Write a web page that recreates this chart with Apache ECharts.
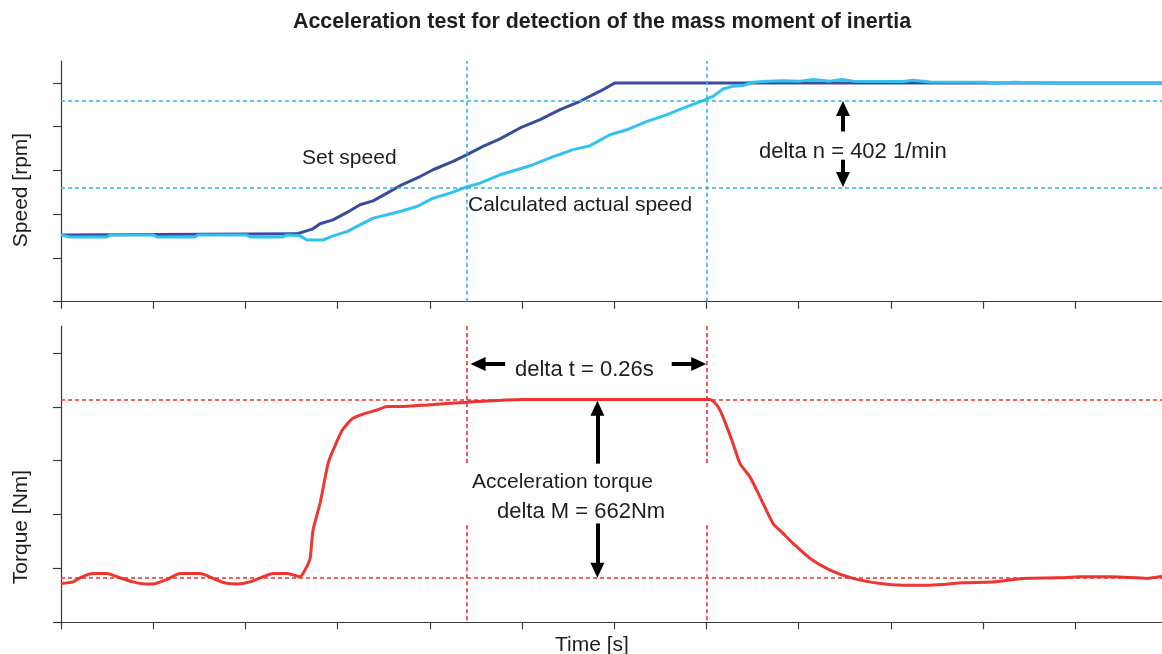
<!DOCTYPE html>
<html><head><meta charset="utf-8">
<script src="https://cdn.jsdelivr.net/npm/echarts@6/dist/echarts.min.js"></script>
<style>html,body{margin:0;padding:0;background:#fff}#c{width:1162px;height:654px}</style>
</head><body><div id="c"></div>
<script>
// ---- data (time in s, speed in rpm, torque in Nm) ----
const xTicks = [0, 0.1, 0.2, 0.3, 0.4, 0.5, 0.6, 0.7, 0.8, 0.9, 1.0, 1.1];
const yTicks = [0, 200, 400, 600, 800, 1000];

const setSpeedT = [0, 0.2556, 0.2733, 0.2809, 0.295, 0.3102, 0.3243, 0.3384, 0.3536, 0.3677, 0.3894, 0.4035, 0.4252, 0.4403, 0.4577, 0.4761, 0.4978, 0.5195, 0.5412, 0.5629, 0.5846, 0.6009, 1.194];
const setSpeedV = [305, 310, 333, 356, 374, 408, 443, 461, 496, 530, 572, 603, 641, 672, 710, 744, 794, 832, 878, 916, 962, 1000, 1000];

const actSpeedT = [0, 0.0098, 0.0499, 0.0531, 0.0998, 0.1041, 0.1453, 0.1486, 0.2017, 0.205, 0.2408, 0.2451, 0.2592, 0.2668, 0.2842, 0.295, 0.3102, 0.3243, 0.3384, 0.3536, 0.3677, 0.3861, 0.4035, 0.4219, 0.4382, 0.4544, 0.4761, 0.4946, 0.5119, 0.5304, 0.5553, 0.5738, 0.5954, 0.6139, 0.6356, 0.6573, 0.6746, 0.6963, 0.7072, 0.718, 0.7289, 0.7397, 0.7505, 0.7657, 0.7831, 0.8015, 0.8156, 0.834, 0.8471, 0.859, 0.9132, 0.9241, 0.9425, 1.0043, 1.0108, 1.0325, 1.0694, 1.194];
const actSpeedV = [305, 296, 296, 305, 305, 296, 296, 305, 305, 296, 296, 305, 301, 282, 282, 301, 320, 351, 382, 397, 412, 435, 473, 496, 522, 542, 580, 603, 626, 657, 695, 713, 763, 786, 824, 855, 885, 919, 939, 972, 985, 988, 1003, 1007, 1010, 1008, 1015, 1008, 1015, 1008, 1006, 1012, 1004, 1003, 997, 1003, 1000, 1000];

const torqueT = [0, 0.013, 0.0228, 0.0347, 0.0499, 0.0607, 0.0781, 0.0933, 0.0998, 0.115, 0.1291, 0.1508, 0.1649, 0.1757, 0.1909, 0.205, 0.2191, 0.2299, 0.2451, 0.2516, 0.2592, 0.2646, 0.2701, 0.2733, 0.2809, 0.2896, 0.295, 0.3048, 0.3156, 0.3275, 0.3427, 0.3536, 0.3677, 0.397, 0.4403, 0.5011, 0.7039, 0.7115, 0.718, 0.7289, 0.7364, 0.7473, 0.7581, 0.7722, 0.7831, 0.7939, 0.8124, 0.834, 0.859, 0.8883, 0.9132, 0.9425, 0.9783, 1.0108, 1.0434, 1.0803, 1.1052, 1.141, 1.1779, 1.194];
const torqueV = [144, 150, 169, 181, 181, 169, 150, 142, 142, 159, 181, 181, 163, 148, 142, 150, 169, 181, 181, 176, 169, 194, 237, 342, 441, 589, 638, 712, 755, 773, 788, 801, 801, 807, 817, 827, 827, 805, 762, 663, 589, 539, 465, 367, 330, 293, 237, 194, 163, 144, 138, 138, 147, 150, 163, 165, 169, 169, 163, 171];

// annotation values
const deltaTimes = [0.44, 0.70];      // delta t = 0.26 s
const speedLevels = [522, 920];       // delta n = 402 1/min (approx)
const torqueLevels = [165, 827];      // delta M = 662 Nm
const torqueGap = [360, 590];         // vertical guide gap behind labels
// arrows: [tail, tip]
const arrowNx = 0.848, arrowN = [[778, 883], [649, 559]];
const arrowTy = 959, arrowT = [[0.4816, 0.4523], [0.6623, 0.6916]];
const arrowMx = 0.5817, arrowM = [[589, 795], [367, 193]];

const zip = (a, b) => a.map((v, i) => [v, b[i]]);

const FONT = "'Liberation Sans', Arial, sans-serif";
const TXT = '#1e1e1e';
const axisCol = '#3a3a3a';
const blueDash = '#2db4e6';
const redDash = '#e8302c';

function xAx(grid) {
  return {
    type: 'value', gridIndex: grid, min: 0, max: 1.194,
    axisLine: { show: true, lineStyle: { color: axisCol, width: 1.2 } },
    axisTick: { show: true, inside: false, length: 7, customValues: xTicks, lineStyle: { color: axisCol, width: 1.2 } },
    axisLabel: { show: false }, splitLine: { show: false }
  };
}
function yAx(grid) {
  return {
    type: 'value', gridIndex: grid, min: 0, max: 1100,
    axisLine: { show: true, lineStyle: { color: axisCol, width: 1.2 } },
    axisTick: { show: true, inside: false, length: 8, customValues: yTicks, lineStyle: { color: axisCol, width: 1.2 } },
    axisLabel: { show: false }, splitLine: { show: false }
  };
}
function dashLines(color, data) {
  return { silent: true, symbol: ['none', 'none'], label: { show: false }, animation: false,
    lineStyle: { color: color, type: [4, 3], width: 1.6 }, emphasis: { disabled: true }, data: data };
}
function arrows(data) {
  return { silent: true, symbol: ['none', 'triangle'], symbolSize: [14, 15], label: { show: false }, animation: false,
    lineStyle: { color: '#000', type: 'solid', width: 4 }, itemStyle: { color: '#000' }, emphasis: { disabled: true }, data: data };
}
const seg = (x1, y1, x2, y2) => [{ coord: [x1, y1] }, { coord: [x2, y2] }];

const chart = echarts.init(document.getElementById('c'), null, { renderer: 'canvas' });
const txt = (text, x, y, opt) => Object.assign({ type: 'text', x: x, y: y, silent: true, z: 100,
  style: Object.assign({ text: text, font: '21px ' + FONT, fill: TXT, align: 'left', verticalAlign: 'middle' }, (opt && opt.style) || {}) },
  opt && opt.rotation ? { rotation: opt.rotation } : {});

chart.setOption({
  animation: false,
  backgroundColor: '#fff',
  grid: [
    { left: 61, top: 61, width: 1101, height: 240.7 },
    { left: 61, top: 326, width: 1101, height: 296.3 }
  ],
  xAxis: [xAx(0), xAx(1)],
  yAxis: [yAx(0), yAx(1)],
  series: [
    {
      type: 'line', name: 'Set speed', xAxisIndex: 0, yAxisIndex: 0, showSymbol: false,
      data: zip(setSpeedT, setSpeedV), lineStyle: { color: '#3a4c9f', width: 3 }, z: 3,
      markLine: dashLines(blueDash, [
        { yAxis: speedLevels[0] }, { yAxis: speedLevels[1] },
        { xAxis: deltaTimes[0] }, { xAxis: deltaTimes[1] }
      ])
    },
    {
      type: 'line', name: 'Calculated actual speed', xAxisIndex: 0, yAxisIndex: 0, showSymbol: false,
      data: zip(actSpeedT, actSpeedV), lineStyle: { color: '#33c2f0', width: 3 }, z: 4,
      markLine: arrows([
        seg(arrowNx, arrowN[0][0], arrowNx, arrowN[0][1]),
        seg(arrowNx, arrowN[1][0], arrowNx, arrowN[1][1])
      ])
    },
    {
      type: 'line', name: 'Torque', xAxisIndex: 1, yAxisIndex: 1, showSymbol: false, smooth: 0.2,
      data: zip(torqueT, torqueV), lineStyle: { color: '#ee3530', width: 3 }, z: 4,
      markLine: dashLines(redDash, [
        { yAxis: torqueLevels[0] }, { yAxis: torqueLevels[1] },
        seg(deltaTimes[0], 1100, deltaTimes[0], torqueGap[1]),
        seg(deltaTimes[0], torqueGap[0], deltaTimes[0], 0),
        seg(deltaTimes[1], 1100, deltaTimes[1], torqueGap[1]),
        seg(deltaTimes[1], torqueGap[0], deltaTimes[1], 0)
      ])
    },
    {
      type: 'line', name: 'arrowsBottom', xAxisIndex: 1, yAxisIndex: 1, showSymbol: false, data: [],
      markLine: arrows([
        seg(arrowT[0][0], arrowTy, arrowT[0][1], arrowTy),
        seg(arrowT[1][0], arrowTy, arrowT[1][1], arrowTy),
        seg(arrowMx, arrowM[0][0], arrowMx, arrowM[0][1]),
        seg(arrowMx, arrowM[1][0], arrowMx, arrowM[1][1])
      ])
    }
  ],
  graphic: [
    txt('Acceleration test for detection of the mass moment of inertia', 602, 22,
      { style: { font: 'bold 21.4px ' + FONT, align: 'center' } }),
    txt('Set speed', 302, 158),
    txt('Calculated actual speed', 468, 205),
    txt('delta n = 402 1/min', 759, 152, { style: { font: '22px ' + FONT } }),
    txt('delta t = 0.26s', 515, 370, { style: { font: '22px ' + FONT } }),
    txt('Acceleration torque', 472, 482),
    txt('delta M = 662Nm', 497, 512, { style: { font: '22px ' + FONT } }),
    txt('Time [s]', 592, 645, { style: { align: 'center' } }),
    txt('Speed [rpm]', 21, 190, { rotation: Math.PI / 2, style: { align: 'center' } }),
    txt('Torque [Nm]', 21, 527, { rotation: Math.PI / 2, style: { align: 'center' } })
  ]
});
</script></body></html>
